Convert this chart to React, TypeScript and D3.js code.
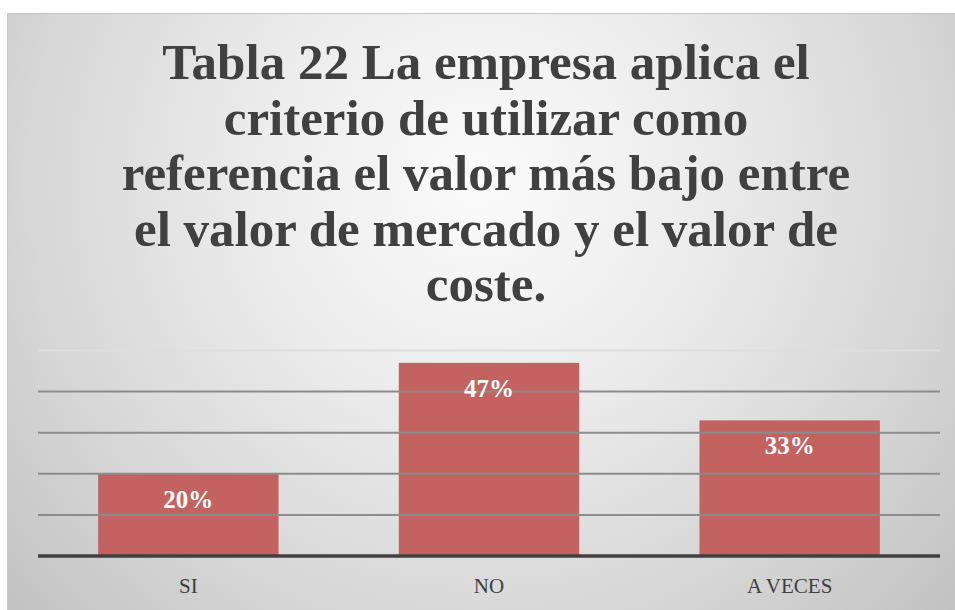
import { useEffect, useRef } from 'react';
import * as d3 from 'd3';

// datos
const categories = ['SI', 'NO', 'A VECES'];
const values = [20, 47, 33]; // porcentaje
const gridTicks = [10, 20, 30, 40, 50];
const titleLines = [
  'Tabla 22 La empresa aplica el',
  'criterio de utilizar como',
  'referencia el valor más bajo entre',
  'el valor de mercado y el valor de',
  'coste.',
];

const W = 955;
const H = 610;

export default function App() {
  const svgRef = useRef<SVGSVGElement | null>(null);

  useEffect(() => {
    const svg = d3.select(svgRef.current);
    svg.selectAll('*').remove();
    svg.attr('width', W).attr('height', H);

    // ── fondo degradado ──────────────────────────────
    const defs = svg.append('defs');
    const grad = defs.append('radialGradient')
      .attr('id', 'bg-grad')
      .attr('gradientUnits', 'userSpaceOnUse')
      .attr('cx', 480).attr('cy', 180).attr('r', 640);
    grad.append('stop').attr('offset', '0%').attr('stop-color', '#fbfbfb');
    grad.append('stop').attr('offset', '35%').attr('stop-color', '#ececec');
    grad.append('stop').attr('offset', '70%').attr('stop-color', '#d7d7d7');
    grad.append('stop').attr('offset', '100%').attr('stop-color', '#c2c2c2');

    svg.append('rect')
      .attr('x', 7).attr('y', 13).attr('width', W - 7).attr('height', H - 13)
      .attr('fill', 'url(#bg-grad)');
    svg.append('line')
      .attr('x1', 7).attr('x2', W).attr('y1', 13.5).attr('y2', 13.5)
      .attr('stroke', '#c4c4c4').attr('stroke-width', 1);
    svg.append('line')
      .attr('x1', 7.5).attr('x2', 7.5).attr('y1', 13).attr('y2', H)
      .attr('stroke', '#c8c8c8').attr('stroke-width', 1);

    // ── título ───────────────────────────────────────
    const title = svg.append('text')
      .attr('text-anchor', 'middle')
      .attr('font-family', '"Liberation Serif", serif')
      .attr('font-weight', 700)
      .attr('font-size', 51)
      .attr('fill', '#404040');
    titleLines.forEach((t, i) => {
      title.append('tspan').attr('x', 486).attr('y', 79 + i * 55.6).text(t);
    });

    // ── escalas ──────────────────────────────────────
    const x = d3.scaleBand<string>()
      .domain(categories)
      .range([38, 940])
      .paddingInner(0.4)
      .paddingOuter(0.2);
    const y = d3.scaleLinear().domain([0, 50]).range([556, 350.5]);

    // ── barras ───────────────────────────────────────
    svg.append('g').selectAll('rect')
      .data(values)
      .join('rect')
      .attr('x', (_, i) => x(categories[i])!)
      .attr('width', x.bandwidth())
      .attr('y', d => y(d))
      .attr('height', d => y(0) - y(d))
      .attr('fill', '#c4625f');

    // ── líneas de cuadrícula (encima, como en el original) ──
    svg.append('g').selectAll('line')
      .data(gridTicks)
      .join('line')
      .attr('x1', 38).attr('x2', 940)
      .attr('y1', d => y(d)).attr('y2', d => y(d))
      .attr('stroke', d => (d === 50 ? '#dedede' : '#8c8c8c'))
      .attr('stroke-width', 2);

    // eje base
    svg.append('line')
      .attr('x1', 38).attr('x2', 940)
      .attr('y1', 556).attr('y2', 556)
      .attr('stroke', '#404040').attr('stroke-width', 3.5);

    // ── etiquetas de valor ───────────────────────────
    svg.append('g').selectAll('text')
      .data(values)
      .join('text')
      .attr('x', (_, i) => x(categories[i])! + x.bandwidth() / 2)
      .attr('y', d => y(d) + 34)
      .attr('text-anchor', 'middle')
      .attr('font-family', '"Liberation Serif", serif')
      .attr('font-weight', 700)
      .attr('font-size', 25)
      .attr('fill', '#ffffff')
      .text(d => `${d}%`);

    // ── etiquetas de categoría ───────────────────────
    svg.append('g').selectAll('text')
      .data(categories)
      .join('text')
      .attr('x', d => x(d)! + x.bandwidth() / 2)
      .attr('y', 593)
      .attr('text-anchor', 'middle')
      .attr('font-family', '"Liberation Serif", serif')
      .attr('font-size', 21)
      .attr('fill', '#404040')
      .text(d => d);
  }, []);

  return <svg ref={svgRef} style={{ position: 'absolute', left: 0, top: 0, display: 'block' }} />;
}
